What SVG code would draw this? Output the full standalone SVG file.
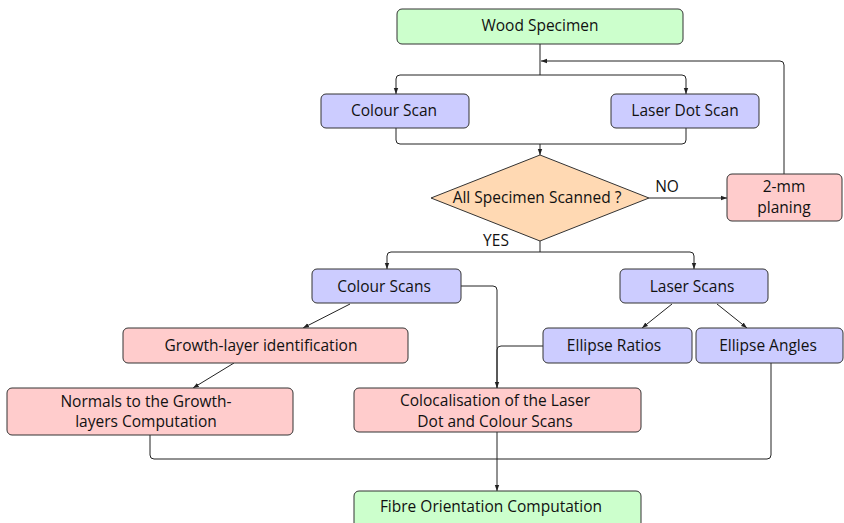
<svg xmlns="http://www.w3.org/2000/svg" width="844" height="523" viewBox="0 0 844 523">
  <style>
    .box { stroke: #333; stroke-width: 1; }
    .green { fill: #ccffcc; }
    .blue { fill: #ccccff; }
    .red { fill: #ffcccc; }
    .orange { fill: #ffd9b3; }
    text { font-family: "Open Sans", "Noto Sans", sans-serif; font-size: 15.5px; fill: #111; text-anchor: middle; }
    .edge { fill: none; stroke: #222; stroke-width: 1; }
  </style>
  <defs>
    <marker id="arr" viewBox="0 0 6 6" refX="6" refY="3" markerWidth="6" markerHeight="6" orient="auto" markerUnits="userSpaceOnUse">
      <path d="M0,0.8 L6,3 L0,5.2 Z" fill="#222"/>
    </marker>
  </defs>

  <g id="connectors">
    <!-- specimen to the scan split -->
    <path class="edge" d="M540,44 V75"/>
    <path class="edge" marker-end="url(#arr)" d="M540,75 H400 Q396,75 396,79 V94"/>
    <path class="edge" marker-end="url(#arr)" d="M540,75 H682 Q686,75 686,79 V94"/>
    <!-- scans merge into decision -->
    <path class="edge" d="M396,128 V140 Q396,144 400,144 H682 Q686,144 686,140 V128"/>
    <path class="edge" marker-end="url(#arr)" d="M540,144 V155"/>
    <!-- NO branch -->
    <path class="edge" marker-end="url(#arr)" d="M649,198 H727"/>
    <!-- planing loops back -->
    <path class="edge" marker-end="url(#arr)" d="M784,174 V65 Q784,61 780,61 H541"/>
    <!-- YES branch -->
    <path class="edge" d="M540,241 V252"/>
    <path class="edge" marker-end="url(#arr)" d="M540,252 H391 Q387,252 387,256 V269"/>
    <path class="edge" marker-end="url(#arr)" d="M540,252 H690 Q694,252 694,256 V269"/>
    <!-- colour scans branches -->
    <path class="edge" marker-end="url(#arr)" d="M350,304 L303,328"/>
    <path class="edge" marker-end="url(#arr)" d="M234,363 L193,388"/>
    <path class="edge" marker-end="url(#arr)" d="M461,286 H493 Q497,286 497,290 V388"/>
    <!-- laser scans branches -->
    <path class="edge" marker-end="url(#arr)" d="M672,304 L642,328"/>
    <path class="edge" marker-end="url(#arr)" d="M717,304 L747,328"/>
    <path class="edge" d="M543,346 H501 Q497,346 497,350 V388"/>
    <!-- into fibre orientation -->
    <path class="edge" d="M150,435 V455 Q150,459 154,459 H767 Q771,459 771,455 V363"/>
    <path class="edge" marker-end="url(#arr)" d="M497,432 V491"/>
  </g>

  <g id="wood-specimen">
    <rect class="box green" x="397" y="9" width="286" height="35" rx="5"/>
    <text x="540" y="31">Wood Specimen</text>
  </g>
  <g id="colour-scan">
    <rect class="box blue" x="321" y="94" width="148" height="34" rx="5"/>
    <text x="394" y="116">Colour Scan</text>
  </g>
  <g id="laser-dot-scan">
    <rect class="box blue" x="611" y="94" width="148" height="34" rx="5"/>
    <text x="685" y="116">Laser Dot Scan</text>
  </g>
  <g id="all-scanned">
    <polygon class="box orange" points="540,155 649,198 540,241 431,198"/>
    <text x="537" y="203">All Specimen Scanned ?</text>
    <text x="667" y="192">NO</text>
    <text x="496" y="246">YES</text>
  </g>
  <g id="planing">
    <rect class="box red" x="727" y="174" width="115" height="47" rx="5"/>
    <text x="784" y="192">2-mm</text>
    <text x="784" y="213">planing</text>
  </g>
  <g id="colour-scans">
    <rect class="box blue" x="312" y="269" width="149" height="34" rx="5"/>
    <text x="384" y="292">Colour Scans</text>
  </g>
  <g id="laser-scans">
    <rect class="box blue" x="620" y="269" width="148" height="34" rx="5"/>
    <text x="692" y="292">Laser Scans</text>
  </g>
  <g id="growth-layer">
    <rect class="box red" x="123" y="328" width="285" height="35" rx="5"/>
    <text x="261" y="351">Growth-layer identification</text>
  </g>
  <g id="ellipse-ratios">
    <rect class="box blue" x="543" y="328" width="149" height="35" rx="5"/>
    <text x="614" y="351">Ellipse Ratios</text>
  </g>
  <g id="ellipse-angles">
    <rect class="box blue" x="696" y="328" width="147" height="35" rx="5"/>
    <text x="768" y="351">Ellipse Angles</text>
  </g>
  <g id="normals">
    <rect class="box red" x="7" y="388" width="286" height="47" rx="5"/>
    <text x="146" y="407">Normals to the Growth-</text>
    <text x="146" y="427">layers Computation</text>
  </g>
  <g id="colocalisation">
    <rect class="box red" x="354" y="388" width="287" height="44" rx="5"/>
    <text x="495" y="406">Colocalisation of the Laser</text>
    <text x="495" y="427">Dot and Colour Scans</text>
  </g>
  <g id="fibre-orientation">
    <rect class="box green" x="354" y="491" width="287" height="40" rx="5"/>
    <text x="491" y="512">Fibre Orientation Computation</text>
  </g>
</svg>
